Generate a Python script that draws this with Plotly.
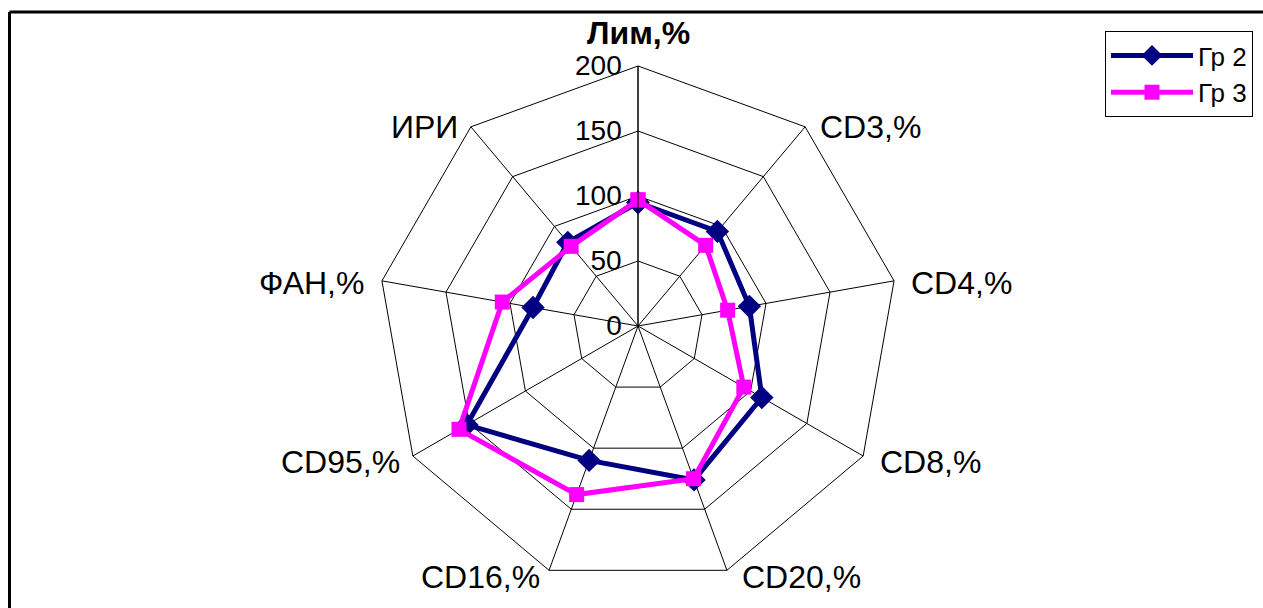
import plotly.graph_objects as go

categories = ["Лим,%", "CD3,%", "CD4,%", "CD8,%", "CD20,%", "CD16,%", "CD95,%", "ФАН,%", "ИРИ"]
gr2 = [95, 95, 87, 110, 126, 110, 152, 82, 84]
gr3 = [97, 81, 70, 94, 125, 138, 159, 106, 80]
radial_ticks = [0, 50, 100, 150, 200]

# category label centres in pixels (x from left, y from top)
label_pos = [(638, 33), (870, 127), (961, 283), (930, 462), (801, 577),
             (480, 577), (340, 462), (311, 283), (424, 127)]

W, H = 1263, 608
cx, cy, R = 638, 326, 260
FONT = "Liberation Sans, Arial, sans-serif"

def closed(vals):
    return vals + vals[:1]

theta = closed(categories)

fig = go.Figure()
fig.add_trace(go.Scatterpolar(
    r=closed(gr2), theta=theta, name="Гр 2", mode="lines+markers",
    line=dict(color="#000080", width=5),
    marker=dict(symbol="diamond", size=18, color="#000080"),
))
fig.add_trace(go.Scatterpolar(
    r=closed(gr3), theta=theta, name="Гр 3", mode="lines+markers",
    line=dict(color="#FF00FF", width=5),
    marker=dict(symbol="square", size=15, color="#FF00FF"),
))

annotations = []
for i, (name, (px, py)) in enumerate(zip(categories, label_pos)):
    text = f"<b>{name}</b>" if i == 0 else name
    annotations.append(dict(
        x=px / W, y=1 - py / H, xref="paper", yref="paper",
        xanchor="center", yanchor="middle", showarrow=False,
        text=text, font=dict(family=FONT, size=32, color="black"),
    ))

fig.update_layout(
    width=W, height=H,
    margin=dict(l=0, r=0, t=0, b=0),
    paper_bgcolor="white",
    font=dict(family=FONT, color="black"),
    polar=dict(
        domain=dict(x=[(cx - R) / W, (cx + R) / W], y=[(H - cy - R) / H, (H - cy + R) / H]),
        bgcolor="white",
        gridshape="linear",
        angularaxis=dict(
            direction="clockwise", rotation=90,
            showline=True, linecolor="black", linewidth=1,
            gridcolor="black", gridwidth=1,
            ticks="", showticklabels=False,
        ),
        radialaxis=dict(
            range=[0, 200], tickvals=radial_ticks, ticktext=[str(t) for t in radial_ticks],
            angle=90, tickangle=90, side="counterclockwise",
            showline=True, linecolor="black", linewidth=1,
            gridcolor="black", gridwidth=1,
            ticks="outside", ticklen=6, tickcolor="rgba(0,0,0,0)",
            tickfont=dict(size=28, color="black"),
        ),
    ),
    legend=dict(
        x=1105 / W, y=1 - 31 / H, xanchor="left", yanchor="top",
        bordercolor="black", borderwidth=1, bgcolor="white",
        font=dict(size=26, color="black"),
        itemwidth=82,
    ),
    showlegend=True,
    annotations=annotations,
    shapes=[
        dict(type="line", xref="paper", yref="paper",
             x0=9.5 / W, x1=1.05, y0=1 - 12 / H, y1=1 - 12 / H,
             line=dict(color="black", width=3)),
        dict(type="line", xref="paper", yref="paper",
             x0=9.5 / W, x1=9.5 / W, y0=1 - 12 / H, y1=-0.05,
             line=dict(color="black", width=3)),
    ],
)

fig.write_html("out.html")
